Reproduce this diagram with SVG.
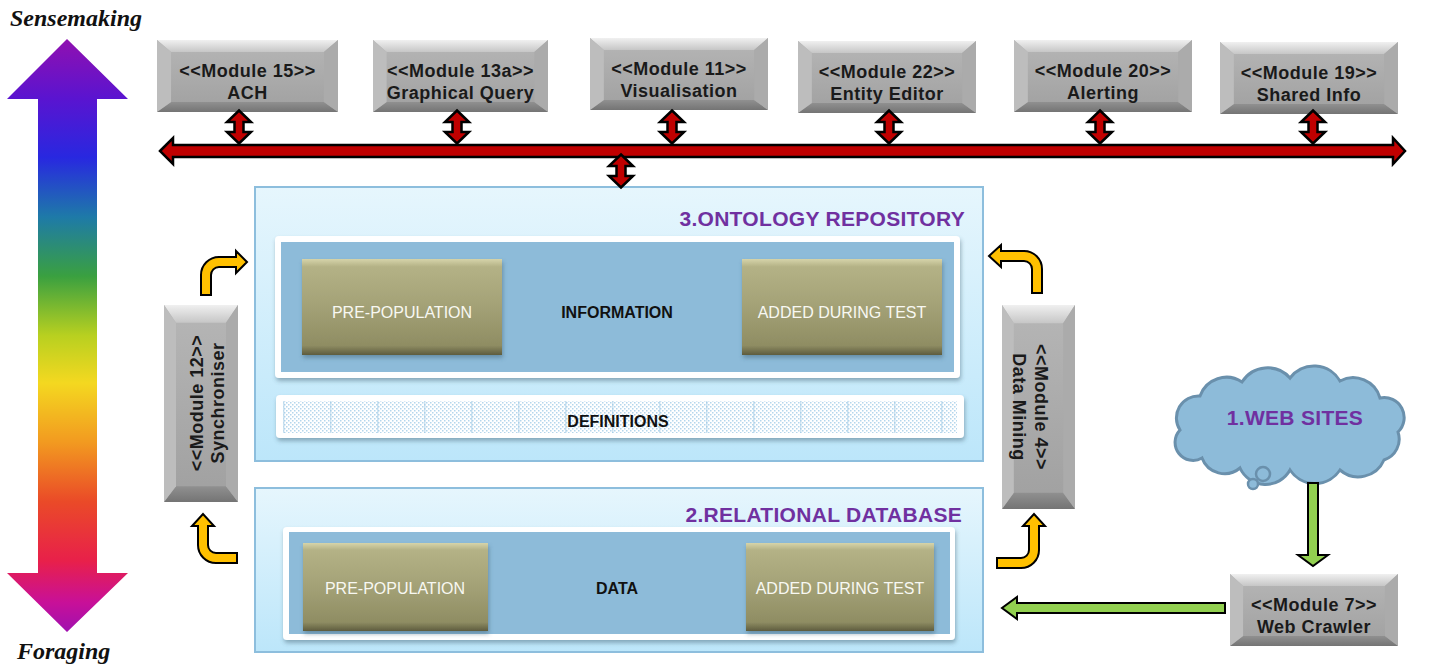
<svg xmlns="http://www.w3.org/2000/svg" xmlns:xlink="http://www.w3.org/1999/xlink" width="1449" height="669" viewBox="0 0 1449 669">
<style>
.mod{font-family:"Liberation Sans",Arial,sans-serif;font-weight:bold;font-size:18px;fill:#1a1a1a;text-anchor:middle;letter-spacing:0.5px}
.title{font-family:"Liberation Sans",Arial,sans-serif;font-weight:bold;font-size:21px;fill:#7030A0;letter-spacing:0.3px}
.lbl{font-family:"Liberation Sans",Arial,sans-serif;font-weight:bold;font-size:16px;fill:#111;text-anchor:middle}
.olt{font-family:"Liberation Sans",Arial,sans-serif;font-size:16px;fill:#F8F8F2;text-anchor:middle}
.side{font-family:"Liberation Serif","Times New Roman",serif;font-weight:bold;font-style:italic;font-size:24px;fill:#111}
.red{fill:#C00000;stroke:#000;stroke-width:2.5;stroke-linejoin:miter}
.org{fill:#FFC000;stroke:#000;stroke-width:2;stroke-linejoin:miter}
.grn{fill:#92D050;stroke:#000;stroke-width:2;stroke-linejoin:miter}
.cont{stroke:#8DBEDD;stroke-width:2}
</style>
<defs>
<linearGradient id="gRainbow" x1="0" y1="39" x2="0" y2="632" gradientUnits="userSpaceOnUse">
<stop offset="0" stop-color="#9010B0"/>
<stop offset="0.1" stop-color="#5A14D0"/>
<stop offset="0.2" stop-color="#2828E0"/>
<stop offset="0.3" stop-color="#1E7AA8"/>
<stop offset="0.4" stop-color="#3AA040"/>
<stop offset="0.5" stop-color="#B8D020"/>
<stop offset="0.58" stop-color="#F4D820"/>
<stop offset="0.68" stop-color="#F29A20"/>
<stop offset="0.78" stop-color="#EA4A28"/>
<stop offset="0.88" stop-color="#E8204A"/>
<stop offset="0.95" stop-color="#C81098"/>
<stop offset="1" stop-color="#A010B0"/>
</linearGradient>
<linearGradient id="gFace" x1="0" y1="0" x2="0" y2="1">
<stop offset="0" stop-color="#B6B6B6"/>
<stop offset="1" stop-color="#A0A0A0"/>
</linearGradient>
<linearGradient id="gTop" x1="0" y1="0" x2="0" y2="1">
<stop offset="0" stop-color="#F0F0F0"/>
<stop offset="1" stop-color="#C6C6C6"/>
</linearGradient>
<linearGradient id="gBot" x1="0" y1="0" x2="0" y2="1">
<stop offset="0" stop-color="#909090"/>
<stop offset="1" stop-color="#747474"/>
</linearGradient>
<linearGradient id="gCont" x1="0" y1="0" x2="0" y2="1">
<stop offset="0" stop-color="#E6F6FD"/>
<stop offset="1" stop-color="#BCE6FA"/>
</linearGradient>
<linearGradient id="gOlive" x1="0" y1="0" x2="0" y2="1">
<stop offset="0" stop-color="#D6D4AA"/>
<stop offset="0.08" stop-color="#B4B286"/>
<stop offset="0.5" stop-color="#A3A176"/>
<stop offset="0.9" stop-color="#8F8D63"/>
<stop offset="1" stop-color="#5E5C3E"/>
</linearGradient>
<pattern id="pDots" x="0" y="0" width="4" height="4" patternUnits="userSpaceOnUse">
<rect width="4" height="4" fill="#FFFFFF"/>
<rect x="0" y="0" width="1.5" height="1.5" fill="#B4D6EC"/>
<rect x="2" y="2" width="1.5" height="1.5" fill="#B4D6EC"/>
</pattern>
<pattern id="pLines" x="283" y="0" width="47" height="10" patternUnits="userSpaceOnUse">
<rect x="0" y="0" width="1.5" height="10" fill="#9CC8E4"/>
</pattern>
<filter id="shadow" x="-10%" y="-10%" width="130%" height="140%">
<feDropShadow dx="1" dy="3" stdDeviation="2" flood-color="#3D5A6A" flood-opacity="0.45"/>
</filter>
<symbol id="bevH" viewBox="0 0 180 72" preserveAspectRatio="none">
<rect x="0" y="0" width="180" height="72" fill="url(#gFace)"/>
<polygon points="0,0 180,0 166,12 14,12" fill="url(#gTop)"/>
<polygon points="0,72 180,72 166,62 14,62" fill="url(#gBot)"/>
<polygon points="0,0 14,12 14,62 0,72" fill="#BDBDBD"/>
<polygon points="180,0 166,12 166,62 180,72" fill="#ABABAB"/>
</symbol>
<symbol id="bevV" viewBox="0 0 74 200" preserveAspectRatio="none">
<rect x="0" y="0" width="74" height="200" fill="url(#gFace)"/>
<polygon points="0,0 74,0 62,18 12,18" fill="url(#gTop)"/>
<polygon points="0,200 74,200 62,184 12,184" fill="url(#gBot)"/>
<polygon points="0,0 12,18 12,184 0,200" fill="#BDBDBD"/>
<polygon points="74,0 62,18 62,184 74,200" fill="#ABABAB"/>
</symbol>
<path id="vdbl" d="M0,-16.5 L12,-5 L4.5,-5 L4.5,5 L12,5 L0,16.5 L-12,5 L-4.5,5 L-4.5,-5 L-12,-5 Z"/>
</defs>

<g id="axis">
<path d="M67,39 L128,99 L97,99 L97,573 L128,573 L67,632 L7,573 L38,573 L38,99 L7,99 Z" fill="url(#gRainbow)"/>
<text class="side" x="10" y="26">Sensemaking</text>
<text class="side" x="17" y="659">Foraging</text>
</g>

<g id="ontology">
<rect class="cont" x="255" y="187" width="728" height="274" fill="url(#gCont)"/>
<text class="title" x="965" y="226" text-anchor="end">3.ONTOLOGY REPOSITORY</text>
<rect x="275" y="236" width="685" height="142" rx="4" fill="#FFFFFF" filter="url(#shadow)"/>
<rect x="281" y="242" width="673" height="130" fill="#8DBBD9"/>
<text class="lbl" x="617" y="318">INFORMATION</text>
</g>
<g id="info-pre">
<rect x="302" y="259" width="200" height="96" fill="url(#gOlive)" filter="url(#shadow)"/>
<text class="olt" x="402" y="318">PRE-POPULATION</text>
</g>
<g id="info-added">
<rect x="742" y="259" width="200" height="96" fill="url(#gOlive)" filter="url(#shadow)"/>
<text class="olt" x="842" y="318">ADDED DURING TEST</text>
</g>
<g id="definitions">
<rect x="276" y="395" width="688" height="43" rx="4" fill="#FFFFFF" filter="url(#shadow)"/>
<rect x="283" y="401" width="674" height="32" fill="url(#pDots)"/>
<rect x="283" y="401" width="674" height="32" fill="url(#pLines)" opacity="0.5"/>
<text class="lbl" x="618" y="427">DEFINITIONS</text>
</g>

<g id="relational">
<rect class="cont" x="255" y="488" width="728" height="164" fill="url(#gCont)"/>
<text class="title" x="962" y="522" text-anchor="end">2.RELATIONAL DATABASE</text>
<rect x="283" y="527" width="672" height="113" rx="4" fill="#FFFFFF" filter="url(#shadow)"/>
<rect x="289" y="532" width="661" height="102" fill="#8DBBD9"/>
<text class="lbl" x="617" y="594">DATA</text>
</g>
<g id="db-pre">
<rect x="303" y="543" width="185" height="88" fill="url(#gOlive)" filter="url(#shadow)"/>
<text class="olt" x="395" y="594">PRE-POPULATION</text>
</g>
<g id="db-added">
<rect x="746" y="543" width="188" height="88" fill="url(#gOlive)" filter="url(#shadow)"/>
<text class="olt" x="840" y="594">ADDED DURING TEST</text>
</g>

<g id="m15"><use href="#bevH" x="157" y="40" width="181" height="72"/>
<text class="mod" x="247.5" y="77">&lt;&lt;Module 15&gt;&gt;</text><text class="mod" x="247.5" y="99">ACH</text></g>
<g id="m13a"><use href="#bevH" x="373" y="40" width="175" height="72"/>
<text class="mod" x="460.5" y="77">&lt;&lt;Module 13a&gt;&gt;</text><text class="mod" x="460.5" y="99">Graphical Query</text></g>
<g id="m11"><use href="#bevH" x="590" y="38" width="178" height="72"/>
<text class="mod" x="679" y="75">&lt;&lt;Module 11&gt;&gt;</text><text class="mod" x="679" y="97">Visualisation</text></g>
<g id="m22"><use href="#bevH" x="798" y="41" width="178" height="72"/>
<text class="mod" x="887" y="78">&lt;&lt;Module 22&gt;&gt;</text><text class="mod" x="887" y="100">Entity Editor</text></g>
<g id="m20"><use href="#bevH" x="1014" y="40" width="178" height="72"/>
<text class="mod" x="1103" y="77">&lt;&lt;Module 20&gt;&gt;</text><text class="mod" x="1103" y="99">Alerting</text></g>
<g id="m19"><use href="#bevH" x="1220" y="42" width="178" height="72"/>
<text class="mod" x="1309" y="79">&lt;&lt;Module 19&gt;&gt;</text><text class="mod" x="1309" y="101">Shared Info</text></g>

<g id="m12"><use href="#bevV" x="164" y="305" width="74" height="197"/>
<text class="mod" transform="translate(201,403) rotate(-90)"><tspan x="0" y="2">&lt;&lt;Module 12&gt;&gt;</tspan><tspan x="0" y="23">Synchroniser</tspan></text></g>
<g id="m4"><use href="#bevV" x="1002" y="305" width="73" height="204"/>
<text class="mod" transform="translate(1038,407) rotate(90)"><tspan x="0" y="3">&lt;&lt;Module 4&gt;&gt;</tspan><tspan x="0" y="25">Data Mining</tspan></text></g>

<g id="websites">
<path d="M1180,430 A22,22 0 0 1 1200,396 A28,28 0 0 1 1242,382 A30,30 0 0 1 1290,378 A30,30 0 0 1 1340,381 A28,28 0 0 1 1380,398 A20,20 0 0 1 1398,432 A22,22 0 0 1 1384,460 A28,28 0 0 1 1340,470 A30,30 0 0 1 1290,470 A28,28 0 0 1 1240,468 A24,24 0 0 1 1202,458 A18,18 0 0 1 1180,430 Z" fill="#8DBBD9" stroke="#6A90AC" stroke-width="3"/>
<circle cx="1263" cy="474" r="7" fill="#8DBBD9" stroke="#6A90AC" stroke-width="2.5"/>
<circle cx="1253" cy="484" r="5" fill="#8DBBD9" stroke="#6A90AC" stroke-width="2.5"/>
<text class="title" x="1295" y="425" text-anchor="middle">1.WEB SITES</text>
</g>

<g id="m7"><use href="#bevH" x="1230" y="574" width="168" height="72"/>
<text class="mod" x="1314" y="611">&lt;&lt;Module 7&gt;&gt;</text><text class="mod" x="1314" y="633">Web Crawler</text></g>

<g id="connectors">
<use href="#vdbl" class="red" x="239" y="127"/>
<use href="#vdbl" class="red" x="457" y="127"/>
<use href="#vdbl" class="red" x="672" y="127"/>
<use href="#vdbl" class="red" x="889" y="127"/>
<use href="#vdbl" class="red" x="1100" y="127"/>
<use href="#vdbl" class="red" x="1313" y="127"/>
<path class="red" d="M160,151 L173,138 L173,145 L1393,145 L1393,138 L1405,151 L1393,164 L1393,157 L173,157 L173,164 Z"/>
<use href="#vdbl" class="red" x="621" y="171"/>
<path class="org" d="M201,295 L201,275 A18,18 0 0 1 219,257 L236,257 L236,251 L247,262 L236,273 L236,267 L219,267 A8,8 0 0 0 211,275 L211,295 Z"/>
<path class="org" d="M1042,293 L1042,269 A18,18 0 0 0 1024,251 L1001,251 L1001,245 L989,256 L1001,267 L1001,261 L1024,261 A8,8 0 0 1 1032,269 L1032,293 Z"/>
<path class="org" d="M198,526 L198,545 A18,18 0 0 0 216,563 L237,563 L237,553 L216,553 A8,8 0 0 1 208,545 L208,526 L214,526 L203,514 L192,526 Z"/>
<path class="org" d="M1039,526 L1039,550 A18,18 0 0 1 1021,568 L997,568 L997,558 L1021,558 A8,8 0 0 0 1029,550 L1029,526 L1023,526 L1034,514 L1045,526 Z"/>
<path class="grn" d="M1308,483 L1318,483 L1318,555 L1328,555 L1313,566 L1298,555 L1308,555 Z"/>
<path class="grn" d="M1225,603 L1225,613 L1017,613 L1017,619 L1002,608 L1017,597 L1017,603 Z"/>
</g>
</svg>
